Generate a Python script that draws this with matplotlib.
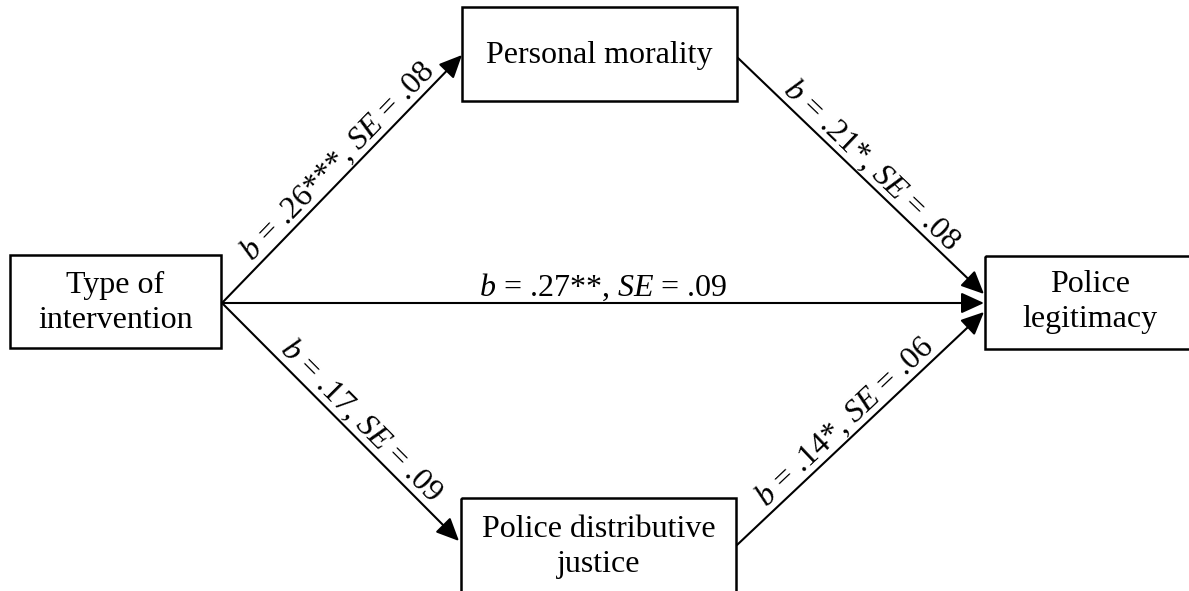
import numpy as np
from matplotlib import pyplot as plt
from matplotlib.patches import Rectangle, FancyArrowPatch

plt.rcParams['font.family'] = ['Liberation Serif', 'DejaVu Serif']
plt.rcParams['mathtext.fontset'] = 'custom'
plt.rcParams['mathtext.rm'] = 'Liberation Serif'
plt.rcParams['mathtext.it'] = 'Liberation Serif:italic'

# nodes of the mediation model
node_names = ["Type of\nintervention", "Personal morality",
              "Police distributive\njustice", "Police\nlegitimacy"]
# box (left, top, right, bottom) in pixel space, and text centre height
node_boxes = [(10, 255, 221, 348), (462, 7, 737, 101),
              (461, 498, 736, 610), (985, 256, 1195, 349)]
node_text_y = [303, 55, 547, 302]

# paths: (from, to), coefficient, stars, standard error
edge_from = [0, 1, 0, 0, 2]
edge_to = [1, 3, 3, 2, 3]
b_values = [".26", ".21", ".27", ".17", ".14"]
b_stars = ["***", "*", "**", "", "*"]
se_values = [".08", ".08", ".09", ".09", ".06"]

# arrow end points (pixels) and where the label sits along the arrow
edge_start = [(222, 303), (738, 58), (222, 303), (222, 303), (737, 545)]
edge_end = [(462, 55), (984, 294), (984, 303), (459, 541), (984, 312)]
label_frac = [0.53, 0.5, 0.5, 0.54, 0.48]

FONT = 23

fig = plt.figure(figsize=(11.89, 5.91), dpi=100)
ax = fig.add_axes([0, 0, 1, 1])
ax.set_xlim(0, 1189)
ax.set_ylim(591, 0)
ax.axis('off')

for name, (l, t, r, b), cy in zip(node_names, node_boxes, node_text_y):
    ax.add_patch(Rectangle((l, t), r - l, b - t, fill=False,
                           edgecolor='black', linewidth=1.8))
    ax.text((l + r) / 2, cy, name, ha='center', va='center',
            fontsize=FONT, linespacing=1.27)

for i in range(len(edge_from)):
    (x0, y0), (x1, y1) = edge_start[i], edge_end[i]
    ax.add_patch(FancyArrowPatch((x0, y0), (x1, y1),
                                 arrowstyle='-|>,head_length=0.7,head_width=0.32',
                                 mutation_scale=20, color='black', lw=1.5,
                                 shrinkA=0, shrinkB=0))
    angle = np.degrees(np.arctan2(-(y1 - y0), x1 - x0))
    f = label_frac[i]
    mx, my = x0 + f * (x1 - x0), y0 + f * (y1 - y0)
    a = np.radians(angle)
    d = 5
    label = f"$b$ = {b_values[i]}{b_stars[i]}, $SE$ = {se_values[i]}"
    ax.annotate(label, (mx, my), xytext=(-np.sin(a) * d, np.cos(a) * d),
                textcoords='offset points', rotation=angle,
                rotation_mode='anchor', ha='center', va='baseline',
                fontsize=FONT)

fig.savefig("out.png", dpi=100)
